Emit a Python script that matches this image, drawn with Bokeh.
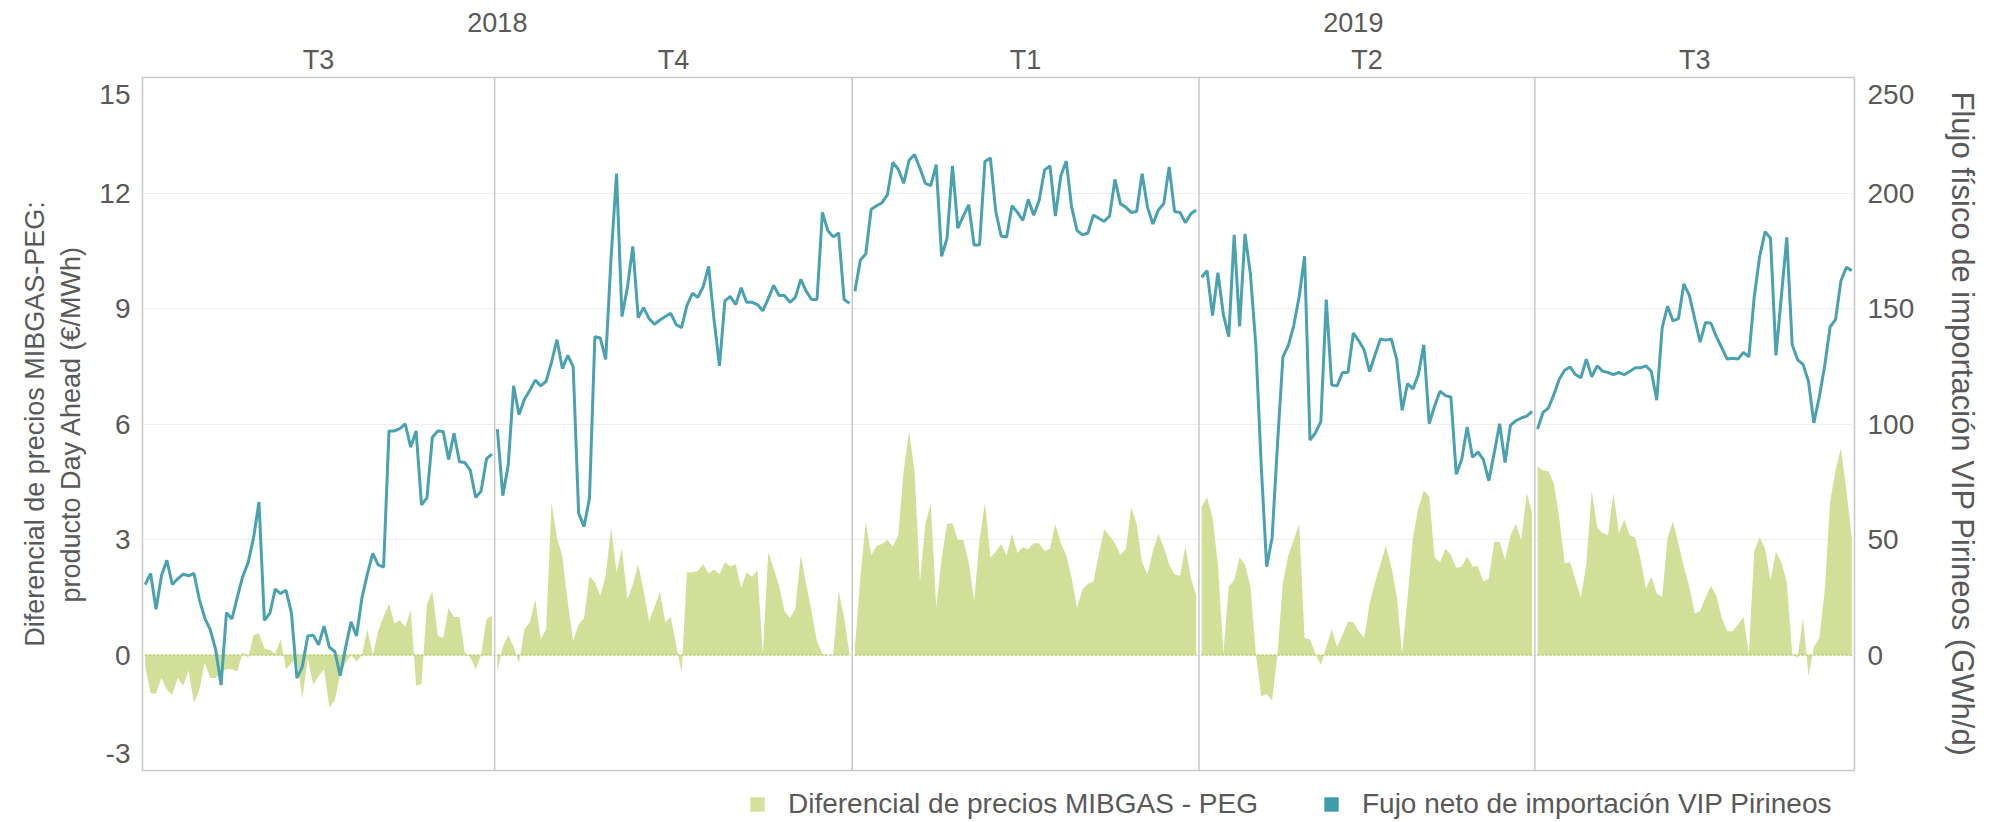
from bokeh.plotting import figure
from bokeh.layouts import column
from bokeh.models import (Range1d, LinearAxis, FixedTicker, Span, Legend, LegendItem)
from bokeh.embed import file_html
from bokeh.resources import INLINE

# ---------------- data ----------------
years = ["2018", "2018", "2019", "2019", "2019"]
quarters = ["T3", "T4", "T1", "T2", "T3"]

# Diferencial de precios MIBGAS - PEG (EUR/MWh), one value per trading day
spread_2018_t3 = [-0.3, -1.0, -1.0, -0.6, -0.9, -1.03, -0.6, -0.8, -0.4, -1.24,
                  -0.9, -0.2, -0.6, -0.6, -0.43, -0.37, -0.37, -0.43, 0.07, -0.08,
                  0.52, 0.56, 0.17, 0.13, 0.03, 0.4, -0.37, -0.2, -0.08, -1.13,
                  -0.08, -0.78, -0.55, -0.37, -1.36, -1.18, -0.49, -0.2, 0.0, -0.17,
                  0.0, 0.67, 0.0, 0.62, 1.0, 1.33, 0.82, 0.9, 0.73, 1.17,
                  -0.8, -0.75, 1.31, 1.66, 0.5, 0.44, 1.22, 0.99, 0.99, 0.06,
                  -0.06, -0.37, 0.0, 0.94, 1.02]
spread_2018_t4 = [-0.43, 0.21, 0.52, 0.21, -0.2, 0.67, 0.85, 1.45, 0.4, 0.67,
                  3.95, 3.05, 2.56, 1.37, 0.36, 0.79, 0.96, 2.03, 1.89, 1.54,
                  2.07, 3.31, 2.15, 2.76, 1.45, 1.83, 2.36, 1.66, 0.87, 1.25,
                  1.64, 0.85, 0.99, 0.27, -0.46, 2.15, 2.15, 2.18, 2.36, 2.12,
                  2.22, 2.1, 2.41, 2.3, 2.36, 1.74, 2.15, 2.03, 2.2, 0.03,
                  2.68, 2.24, 1.8, 1.14, 0.96, 1.2, 2.59, 1.83, 1.14, 0.36,
                  0.03, 0.0, 0.0, 1.66, 0.96, 0.03]
spread_2019_t1 = [0.2, 2.0, 3.46, 2.59, 2.84, 2.88, 2.99, 2.82, 3.11, 4.8,
                  5.8, 4.79, 1.89, 3.4, 3.95, 1.22, 2.5, 3.4, 3.42, 2.99,
                  2.99, 2.41, 1.4, 2.99, 3.96, 2.53, 2.68, 2.88, 2.59, 3.15,
                  2.65, 2.8, 2.75, 2.9, 2.9, 2.7, 2.76, 3.4, 2.9, 2.6,
                  2.0, 1.22, 1.7, 1.85, 1.9, 2.6, 3.26, 3.1, 2.9, 2.6,
                  2.75, 3.84, 3.4, 2.4, 2.1, 2.7, 3.15, 2.8, 2.35, 2.1,
                  2.05, 2.82, 2.0, 1.54]
spread_2019_t2 = [3.86, 4.1, 3.57, 2.36, 0.03, 1.78, 1.95, 2.53, 2.36, 1.78,
                  0.03, -1.07, -1.01, -1.18, 0.03, 1.89, 2.59, 2.99, 3.4, 0.44,
                  0.4, 0.03, -0.26, 0.21, 0.67, 0.21, 0.52, 0.87, 0.85, 0.62,
                  0.44, 1.33, 1.89, 2.36, 2.84, 2.3, 1.54, 0.03, 1.49, 3.05,
                  3.81, 4.27, 4.12, 2.53, 2.41, 2.76, 2.59, 2.26, 2.3, 2.56,
                  2.3, 2.3, 1.91, 1.98, 2.94, 2.94, 2.47, 3.11, 3.4, 2.99,
                  4.21, 3.69]
spread_2019_t3 = [4.9, 4.79, 4.77, 4.46, 3.57, 2.38, 2.41, 1.95, 1.49, 2.36,
                  4.27, 3.31, 3.17, 3.11, 4.21, 3.17, 3.52, 3.11, 3.05, 2.5,
                  1.72, 2.03, 1.6, 1.51, 3.05, 3.46, 2.88, 2.3, 1.78, 1.08,
                  1.14, 1.49, 1.8, 1.54, 0.96, 0.62, 0.62, 0.79, 0.99, 0.03,
                  2.7, 3.05, 2.76, 1.95, 2.68, 2.41, 1.89, 0.03, -0.08, 0.96,
                  -0.55, 0.21, 0.44, 1.66, 3.98, 4.79, 5.37, 4.27, 3.05]

# Flujo neto de importacion VIP Pirineos (GWh/d)
flow_2018_t3 = [30.5, 35.3, 19.8, 34.3, 41, 30.5, 33, 35, 34.3, 35.3,
                24, 16, 11, 2.4, -13, 18.3, 15.6, 25, 34, 40,
                50.8, 66.2, 15, 18, 28.5, 26.6, 28, 18, -10, -5,
                8.2, 8.6, 4.4, 12.5, 3.4, 1.5, -9, 3.4, 14.4, 8.2,
                24.7, 35, 44, 39, 38, 97, 97, 98, 100, 90,
                97, 65, 68, 94.3, 97, 96.8, 84.6, 96, 83.7, 83.3,
                80, 68.2, 71, 85, 87]
flow_2018_t4 = [97.8, 69, 82, 116.5, 104, 110.7, 114.6, 119, 116.5, 118.5,
                126.8, 136.5, 124, 129.7, 124.7, 61.4, 55.6, 67.8, 137.8, 137.2,
                128, 172.6, 208.4, 146.5, 159, 176.9, 146, 150.4, 145.6, 143.2,
                145, 146.5, 147.9, 143, 141.7, 151.4, 156.6, 154.8, 159.5, 168.2,
                145, 125.2, 153.3, 155.2, 151.7, 159, 152.7, 152.7, 151.7, 149,
                154.3, 160, 155.6, 155.6, 152.7, 154.8, 162.6, 157.5, 153.9, 153.9,
                191.6, 183.7, 181, 182.7, 153.9, 152.3]
flow_2019_t1 = [157.5, 171, 173.6, 193, 194.5, 195.8, 199.3, 213.2, 210.3, 204.2,
                214.2, 216.7, 210.7, 204.2, 203.2, 212.3, 172.6, 180.4, 211.7, 184.8,
                190, 194.9, 177.5, 177.5, 213.6, 215.2, 192, 181.3, 181, 194.5,
                191.6, 188.1, 197.2, 190.4, 196.8, 210, 211.7, 190, 207.4, 213.8,
                193.9, 183.7, 181.9, 182.7, 190.4, 189.1, 187.7, 190, 205.9, 195.3,
                193.9, 191.6, 192, 208.4, 193.9, 186.6, 192.6, 195.3, 211.3, 192,
                191.6, 187.1, 191, 192.6]
flow_2019_t2 = [163.5, 166.4, 146.9, 165.5, 147.5, 137.8, 181.9, 142.3, 182.3, 164.9,
                134, 81.7, 38.2, 50.8, 91.4, 129.1, 134, 142.6, 155.2, 172.6,
                93, 96.2, 101, 153.9, 116.9, 116.5, 122.3, 122.3, 139.4, 136,
                132, 122.7, 130, 136.8, 136.3, 136.8, 128, 105.9, 117.5, 115.2,
                121.4, 134.3, 100.1, 107.8, 114.2, 112.3, 111.7, 78.2, 84.6, 98.7,
                85.6, 87.9, 84.6, 75.5, 87.5, 100.1, 83.3, 99.5, 101.4, 102.6,
                103.4, 105.5]
flow_2019_t3 = [97.8, 105, 106.9, 112.7, 119.4, 123.3, 124.7, 121.4, 120, 128.1,
                120.4, 125.2, 122.9, 122.3, 121.4, 122.3, 121.4, 122.7, 124.3, 124.3,
                125.2, 122.7, 110.3, 141.7, 151, 144.6, 145.6, 160.6, 155.8, 145.6,
                135.5, 144, 143.6, 137.8, 133, 128.1, 128.5, 128.1, 131, 129.1,
                155.2, 172.6, 183.3, 180.4, 129.7, 155.2, 180.8, 134.3, 127.8, 125.8,
                118.5, 100.5, 111.7, 125.2, 142.1, 145.2, 162, 167.8, 166.4]

spread = [spread_2018_t3, spread_2018_t4, spread_2019_t1, spread_2019_t2, spread_2019_t3]
flow = [flow_2018_t3, flow_2018_t4, flow_2019_t1, flow_2019_t2, flow_2019_t3]

left_ticks = [-3, 0, 3, 6, 9, 12, 15]
right_ticks = [0, 50, 100, 150, 200, 250]
label_spread = "Diferencial de precios MIBGAS - PEG"
label_flow = "Fujo neto de importación VIP Pirineos"
title_left = "Diferencial de precios MIBGAS-PEG:\nproducto Day Ahead (€/MWh)"
title_right = "Flujo físico de importación VIP Pirineos (GWh/d)"

# ---------------- style ----------------
GREEN = "#d1df98"
GREEN_SW = "#d4e09c"
GREEN_EDGE = "#b9cd6c"
TEAL = "#4aa1b0"
TEAL_SW = "#3f9cab"
TEXT = "#595959"
FRAME = "#c8c8c8"
FONT = "Liberation Sans"

W, H = 1995, 822
B_LEFT, B_RIGHT, B_TOP = 142, 141, 77
FRAME_H = 693
EDGE_INSET_PX = 17          # end tick labels sit inside the frame, as in the original

# positions: one slot per trading day, quarters laid side by side
starts, x_by_q = [], []
pos = 0
for s, f in zip(spread, flow):
    assert len(s) == len(f)
    starts.append(pos)
    x_by_q.append([pos + i + 0.5 for i in range(len(s))])
    pos += len(s)
N = pos
quarter_centers = [st + len(s) / 2 for st, s in zip(starts, spread)]
year_names = []
for y in years:
    if y not in year_names:
        year_names.append(y)
year_centers = []
for y in year_names:
    idx = [i for i, yy in enumerate(years) if yy == y]
    lo = starts[idx[0]]
    hi = starts[idx[-1]] + len(spread[idx[-1]])
    year_centers.append((lo + hi) / 2)

ylo, yhi = left_ticks[0], left_ticks[-1]
rlo, rhi = -50, right_ticks[-1]


def inset_ticks(ticks, lo, hi):
    d = EDGE_INSET_PX * (hi - lo) / FRAME_H
    pos_, lab = [], {}
    for t in ticks:
        v = t + d if t == lo else (t - d if t == hi else t)
        pos_.append(v)
        if v != t:
            lab[v] = str(t)
    return pos_, lab


lt_pos, lt_lab = inset_ticks(left_ticks, ylo, yhi)
rt_pos, rt_lab = inset_ticks(right_ticks, rlo, rhi)

p = figure(width=W, height=B_TOP + FRAME_H + 2, x_range=Range1d(0, N),
           y_range=Range1d(ylo, yhi),
           x_axis_location=None, output_backend="svg", toolbar_location=None,
           min_border_left=B_LEFT, min_border_right=B_RIGHT, min_border_top=B_TOP,
           min_border_bottom=2)
p.extra_y_ranges = {"flow": Range1d(rlo, rhi)}
p.background_fill_color = "white"
p.border_fill_color = "white"
p.outline_line_color = FRAME
p.outline_line_width = 1.5

p.xgrid.visible = False
p.ygrid.ticker = FixedTicker(ticks=left_ticks)
p.ygrid.grid_line_color = "#eeeeee"
p.ygrid.grid_line_width = 1


def style_top(ax, standoff):
    ax.axis_line_color = None
    ax.major_tick_line_color = None
    ax.minor_tick_line_color = None
    ax.major_tick_out = 0
    ax.major_tick_in = 0
    ax.major_label_standoff = standoff
    ax.major_label_text_font = FONT
    ax.major_label_text_font_size = "27px"
    ax.major_label_text_color = TEXT


qa = LinearAxis(ticker=FixedTicker(ticks=quarter_centers),
                major_label_overrides={c: q for c, q in zip(quarter_centers, quarters)})
style_top(qa, 3)
p.add_layout(qa, "above")
yax = LinearAxis(ticker=FixedTicker(ticks=year_centers),
                 major_label_overrides={c: y for c, y in zip(year_centers, year_names)})
style_top(yax, 10)
p.add_layout(yax, "above")


def style_side(ax, standoff):
    ax.axis_line_color = None
    ax.major_tick_line_color = None
    ax.minor_tick_line_color = None
    ax.major_tick_out = 0
    ax.major_tick_in = 0
    ax.major_label_text_font = FONT
    ax.major_label_text_font_size = "28px"
    ax.major_label_text_color = TEXT
    ax.major_label_standoff = standoff
    ax.axis_label_text_font = FONT
    ax.axis_label_text_font_style = "normal"
    ax.axis_label_text_color = TEXT


# left axis
ya = p.yaxis[0]
ya.ticker = FixedTicker(ticks=lt_pos)
ya.major_label_overrides = lt_lab
style_side(ya, 12)
ya.axis_label = title_left
ya.axis_label_text_font_size = "27px"
ya.axis_label_standoff = 10

# right axis
ry = LinearAxis(y_range_name="flow", ticker=FixedTicker(ticks=rt_pos),
                major_label_overrides=rt_lab)
style_side(ry, 13)
ry.axis_label = title_right
ry.axis_label_text_font_size = "31px"
ry.axis_label_standoff = 28
p.add_layout(ry, "right")

# quarter dividers
for st in starts[1:]:
    p.add_layout(Span(location=st, dimension="height", line_color=FRAME, line_width=1.5))

# series
for xs, s in zip(x_by_q, spread):
    p.varea(x=xs, y1=0, y2=s, fill_color=GREEN, fill_alpha=1.0)
    p.line(x=xs, y=0, line_color=GREEN_EDGE, line_dash="2 2", line_width=1.5)
for xs, f in zip(x_by_q, flow):
    p.line(x=xs, y=f, y_range_name="flow", line_color=TEAL, line_width=3)

# ---------------- legend strip ----------------
lf = figure(width=W, height=H - p.height, x_range=Range1d(0, 1), y_range=Range1d(0, 1),
            x_axis_location=None, y_axis_location=None, toolbar_location=None,
            output_backend="svg", min_border_left=B_LEFT, min_border_right=B_RIGHT,
            min_border_top=0, min_border_bottom=0)
lf.outline_line_color = None
lf.grid.visible = False
# swatch renderers kept outside the visible range; only their legend glyphs show
sw1 = lf.varea(x=[2, 3], y1=[2, 2], y2=[3, 3], fill_color=GREEN_SW)
sw2 = lf.varea(x=[2, 3], y1=[2, 2], y2=[3, 3], fill_color=TEAL_SW)
legend = Legend(items=[LegendItem(label=label_spread, renderers=[sw1]),
                       LegendItem(label=label_flow, renderers=[sw2])],
                orientation="horizontal", location=(606, 0))
legend.label_text_font = FONT
legend.label_text_font_size = "28px"
legend.label_text_color = TEXT
legend.glyph_width = 18
legend.glyph_height = 18
legend.label_height = 36
legend.label_standoff = 22
legend.spacing = 64
legend.padding = 0
legend.margin = 0
legend.border_line_color = None
legend.background_fill_alpha = 0
lf.add_layout(legend, "center")

layout = column(p, lf, spacing=0)
open("out.html", "w").write(file_html(layout, INLINE))
